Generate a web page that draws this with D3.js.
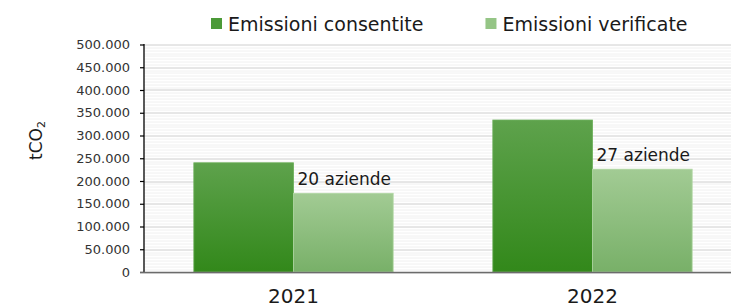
<!DOCTYPE html>
<html>
<head>
<meta charset="utf-8">
<script src="https://cdn.jsdelivr.net/npm/d3@7"></script>
<style>
  body { margin: 0; background: #fff; }
  svg { display: block; }
  text { font-family: "DejaVu Sans", Verdana, sans-serif; fill: #222; }
</style>
</head>
<body>
<div id="chart-area"></div>
<script>
// data
var years = ["2021", "2022"];
var seriesNames = ["Emissioni consentite", "Emissioni verificate"];
var consentite = [240000, 334000];
var verificate = [173000, 226000];
var aziende = ["20 aziende", "27 aziende"];
var yTicks = [0, 50000, 100000, 150000, 200000, 250000, 300000, 350000, 400000, 450000, 500000];

var W = 731, H = 308;
var margins = { left: 144, right: -11, top: 44.5, bottom: 36 };
var width = W - margins.left - margins.right;
var height = H - margins.top - margins.bottom;

var svg = d3.select("#chart-area").append("svg")
    .attr("width", W)
    .attr("height", H);

// gradients for the bars
var defs = svg.append("defs");
var grads = [
  { id: "gCons", top: "#5ea24c", bottom: "#32881a" },
  { id: "gVer",  top: "#a2cb94", bottom: "#78b068" }
];
grads.forEach(function(gr) {
  var lg = defs.append("linearGradient")
      .attr("id", gr.id)
      .attr("x1", 0).attr("y1", 0).attr("x2", 0).attr("y2", 1);
  lg.append("stop").attr("offset", "0%").attr("stop-color", gr.top);
  lg.append("stop").attr("offset", "100%").attr("stop-color", gr.bottom);
});

var g = svg.append("g")
    .attr("transform", "translate(" + margins.left + "," + margins.top + ")");

var y = d3.scaleLinear().domain([0, 500000]).range([height, 0]);
var x0 = d3.scaleBand().domain(years).range([0, width]).padding(0);
var x1 = d3.scaleBand().domain(seriesNames).range([0, x0.bandwidth()])
    .paddingInner(0).paddingOuter(0.5);

// minor grid (light stripes)
g.append("g").selectAll("line")
  .data(d3.range(0, 500001, 6250))
  .enter().append("line")
    .attr("x1", 0).attr("x2", width)
    .attr("y1", function(d) { return Math.round(y(d)) + 0.5; })
    .attr("y2", function(d) { return Math.round(y(d)) + 0.5; })
    .attr("stroke", "#f0f0f0")
    .attr("stroke-width", 1);

// major grid
g.append("g").selectAll("line")
  .data(yTicks)
  .enter().append("line")
    .attr("x1", 0).attr("x2", width)
    .attr("y1", function(d) { return Math.round(y(d)) + 0.5; })
    .attr("y2", function(d) { return Math.round(y(d)) + 0.5; })
    .attr("stroke", "#d6d6d6")
    .attr("stroke-width", 1.2);

// bars
var rows = years.map(function(yr, i) {
  return { year: yr, values: [consentite[i], verificate[i]], label: aziende[i] };
});
var fills = ["url(#gCons)", "url(#gVer)"];
var strokes = ["#6aae58", "#b0d6a3"];

var groups = g.selectAll(".year")
  .data(rows)
  .enter().append("g")
    .attr("class", "year")
    .attr("transform", function(d) { return "translate(" + x0(d.year) + ",0)"; });

groups.selectAll("rect")
  .data(function(d) { return d.values.map(function(v, j) { return { name: seriesNames[j], v: v, j: j }; }); })
  .enter().append("rect")
    .attr("x", function(d) { return x1(d.name); })
    .attr("width", x1.bandwidth())
    .attr("y", function(d) { return y(d.v); })
    .attr("height", function(d) { return height - y(d.v); })
    .attr("fill", function(d) { return fills[d.j]; })
    .attr("stroke", function(d) { return strokes[d.j]; })
    .attr("stroke-width", 0.8);

// "aziende" labels above verificate bars
groups.append("text")
    .attr("x", function(d) { return x1(seriesNames[1]) + 4; })
    .attr("y", function(d) { return y(d.values[1]) - 8; })
    .style("font-size", "17px")
    .style("fill", "#1a1a1a")
    .text(function(d) { return d.label; });

// y axis
var yAxis = g.append("g")
    .call(d3.axisLeft(y).tickValues(yTicks).tickSize(4).tickPadding(10)
      .tickFormat(function(d) { return d3.format(",")(d).replace(/,/g, "."); }));
yAxis.select(".domain").attr("stroke", "#000").attr("stroke-width", 1.3)
    .attr("d", "M0," + (y(500000) - 0.5) + "V" + height);
yAxis.selectAll(".tick line").attr("stroke", "#000").attr("stroke-width", 1.2);
yAxis.selectAll(".tick text")
    .style("font-size", "13px")
    .style("fill", "#333")
    .style("font-family", "'DejaVu Sans', Verdana, sans-serif");

// x axis line
g.append("line")
    .attr("x1", -4).attr("x2", width)
    .attr("y1", height + 0.5).attr("y2", height + 0.5)
    .attr("stroke", "#6b6b6b")
    .attr("stroke-width", 1.6);

// year labels
g.selectAll(".ylab")
  .data(years)
  .enter().append("text")
    .attr("class", "ylab")
    .attr("x", function(d) { return x0(d) + x0.bandwidth() / 2; })
    .attr("y", height + 31)
    .attr("text-anchor", "middle")
    .style("font-size", "20px")
    .style("fill", "#1a1a1a")
    .text(function(d) { return d; });

// y title tCO2
var yt = svg.append("text")
    .attr("transform", "translate(42,160) rotate(-90)")
    .style("font-size", "17px")
    .style("fill", "#1a1a1a");
yt.append("tspan").text("tCO");
yt.append("tspan").attr("dy", 3).style("font-size", "11px").text("2");

// legend
var legendColors = ["#4c9a38", "#95c586"];
var lx = 211;
seriesNames.forEach(function(name, i) {
  var item = svg.append("g").attr("transform", "translate(" + lx + ",0)");
  item.append("rect")
      .attr("x", 0).attr("y", 18)
      .attr("width", 11).attr("height", 11)
      .attr("fill", legendColors[i]);
  var t = item.append("text")
      .attr("x", 17).attr("y", 31)
      .style("font-size", "19px")
      .style("fill", "#1a1a1a")
      .text(name);
  lx += 17 + t.node().getComputedTextLength() + 62;
});
</script>
</body>
</html>
